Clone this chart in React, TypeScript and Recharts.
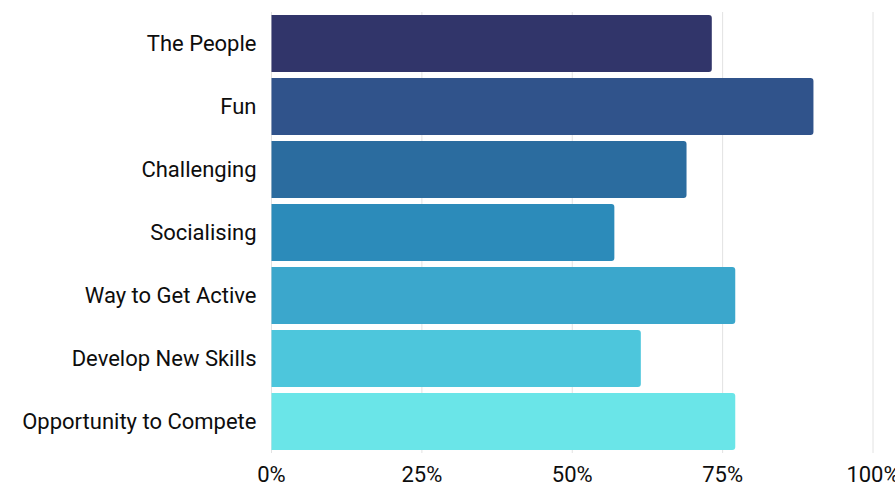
import { BarChart, Bar, XAxis, YAxis, CartesianGrid, Cell } from 'recharts'

const categories = [
  'The People',
  'Fun',
  'Challenging',
  'Socialising',
  'Way to Get Active',
  'Develop New Skills',
  'Opportunity to Compete',
]
const shares = [73.2, 90.1, 69.0, 57.0, 77.1, 61.4, 77.1]
const barColors = ['#31356a', '#30538b', '#2b6c9f', '#2c8bba', '#3ba7cc', '#4dc6dc', '#6ae5e8']
const xTicks = [0, 25, 50, 75, 100]

const data = categories.map((name, i) => ({ name, value: shares[i] }))

// medium-ish weight: the source font is a DIN-like face
const tickStyle = { fontSize: 22, fontWeight: 400, fill: '#0d0d0d', fontFamily: 'Roboto, sans-serif' }

export default function App() {
  return (
    <div style={{ position: 'absolute', left: 0, top: 0, width: 895, height: 487, background: '#fff' }}>
      <BarChart
        width={895}
        height={487}
        data={data}
        layout="vertical"
        margin={{ top: 12, right: 22, bottom: 0, left: 0 }}
        barCategoryGap={3}
      >
        <CartesianGrid horizontal={false} stroke="#e2e2e2" />
        <XAxis
          type="number"
          domain={[0, 100]}
          ticks={xTicks}
          tickFormatter={(v) => `${v}%`}
          axisLine={false}
          tickLine={false}
          tickSize={0}
          tickMargin={13}
          height={34}
          tick={tickStyle}
          interval={0}
        />
        <YAxis
          type="category"
          dataKey="name"
          width={271.5}
          axisLine={false}
          tickLine={false}
          tickSize={0}
          tickMargin={15}
          tick={tickStyle}
          interval={0}
        />
        <Bar dataKey="value" radius={[0, 3, 3, 0]} isAnimationActive={false}>
          {data.map((d, i) => (
            <Cell key={d.name} fill={barColors[i]} />
          ))}
        </Bar>
      </BarChart>
    </div>
  )
}
